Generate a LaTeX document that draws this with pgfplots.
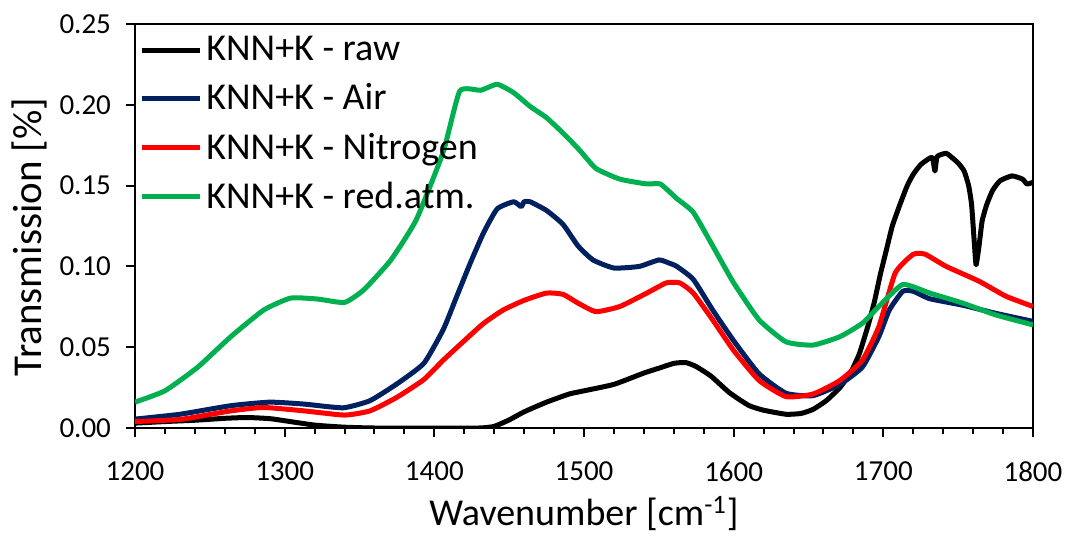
\documentclass[border=0pt]{standalone}
\usepackage{pgfplots}
\pgfplotsset{compat=1.18}
\usepackage{fontspec}
\setmainfont{Carlito}
\definecolor{cblack}{RGB}{0,0,0}
\definecolor{cnavy}{RGB}{0,32,96}
\definecolor{cred}{RGB}{255,0,0}
\definecolor{cgreen}{RGB}{0,176,80}
\begin{document}
\begin{tikzpicture}
\path[use as bounding box] (-67.5pt,-54pt) rectangle (466pt,214pt);
\begin{axis}[
  at={(0,0)}, anchor=south west,
  scale only axis, width=449pt, height=202pt,
  xmin=1200, xmax=1800, ymin=0, ymax=0.25,
  xtick={1200,1300,...,1800},
  ytick={0,0.05,0.10,0.15,0.20,0.25},
  minor x tick num=4,
  tick align=outside,
  xtick pos=bottom, ytick pos=left,
  major tick length=4.5pt, minor tick length=3pt,
  axis line style={line width=1pt},
  every tick/.style={line width=1pt, black},
  /pgf/number format/assume math mode=true,
  x tick label style={/pgf/number format/1000 sep={}, font=\fontsize{14.5}{17}\selectfont, yshift=-9pt},
  y tick label style={/pgf/number format/.cd, fixed, fixed zerofill, precision=2, /tikz/.cd, font=\fontsize{14.5}{17}\selectfont, xshift=-4pt},
  scaled y ticks=false,
  xlabel={Wavenumber [cm\textsuperscript{-1}]},
  ylabel={Transmission [\%]},
  xlabel style={font=\fontsize{19}{23}\selectfont, at={(axis description cs:0.5,-0.212)}, anchor=center},
  ylabel style={font=\fontsize{20.5}{24}\selectfont, at={(axis description cs:-0.118,0.473)}, anchor=center},
  legend style={at={(axis description cs:0,1)}, anchor=north west, draw=none, fill=none,
    font=\fontsize{19}{23}\selectfont, row sep=6pt, inner xsep=2pt, inner ysep=4pt},
  legend cell align=left,
  legend image code/.code={\draw[#1, line width=2.5pt] (0pt,0pt) -- (29pt,0pt);},
  every axis plot/.append style={line width=2.5pt, line join=round, smooth, tension=0.3},
]
\addplot[cblack] coordinates {
(1200,0.003)(1220,0.004)(1240,0.0048)(1260,0.006)(1275,0.0065)(1290,0.0058)(1300,0.0045)
(1320,0.0018)(1340,0.0005)(1360,0.0)(1400,0.0)(1430,0.0)(1440,0.001)(1450,0.005)(1460,0.010)
(1475,0.016)(1490,0.021)(1500,0.023)(1520,0.027)(1540,0.034)(1550,0.037)(1560,0.040)(1568,0.0405)
(1575,0.038)(1585,0.032)(1597,0.022)(1610,0.014)(1620,0.011)(1635,0.0085)(1645,0.009)(1653,0.0115)
(1662,0.017)(1671,0.025)(1678,0.034)(1684,0.046)(1690,0.064)(1694,0.078)(1698,0.095)(1702,0.110)
(1706,0.125)(1711,0.138)(1716,0.150)(1720,0.157)(1725,0.163)(1731,0.167)(1733,0.167)(1734.5,0.159)
(1736,0.168)(1742,0.170)(1745,0.168)(1750,0.164)(1754,0.159)(1757,0.150)(1759,0.138)(1761,0.112)
(1762,0.101)(1764,0.113)(1766,0.128)(1769,0.138)(1773,0.147)(1778,0.153)(1786,0.156)(1793,0.154)
(1796,0.151)(1800,0.152)
};
\addlegendentry{KNN+K - raw}
\addplot[cnavy] coordinates {
(1200,0.0055)(1230,0.0085)(1264,0.0138)(1290,0.016)(1313,0.0148)(1339,0.0125)(1357,0.0169)
(1375,0.0273)(1393,0.040)(1406,0.061)(1415,0.0815)(1424,0.102)(1433,0.121)(1442,0.1356)
(1453,0.140)(1458,0.137)(1460,0.140)(1464,0.140)(1475,0.1346)(1486,0.126)(1496,0.1127)(1506,0.104)(1520,0.099)
(1537,0.100)(1550,0.104)(1557,0.102)(1562,0.100)(1573,0.092)(1586,0.073)(1600,0.054)
(1617,0.0335)(1635,0.0215)(1653,0.020)(1671,0.027)(1686,0.0377)(1697,0.0565)(1704,0.073)
(1713,0.0846)(1720,0.0846)(1731,0.080)(1753,0.076)(1775,0.071)(1800,0.066)
};
\addlegendentry{KNN+K - Air}
\addplot[cred] coordinates {
(1200,0.004)(1231,0.0054)(1264,0.0106)(1286,0.0127)(1313,0.0106)(1340,0.008)(1357,0.0106)
(1375,0.019)(1393,0.030)(1406,0.042)(1420,0.054)(1433,0.0648)(1446,0.073)(1460,0.079)
(1475,0.0835)(1486,0.0827)(1496,0.0773)(1508,0.072)(1524,0.0752)(1542,0.0835)(1555,0.0898)
(1564,0.0898)(1573,0.0835)(1586,0.0669)(1600,0.048)(1617,0.0294)(1635,0.0194)(1653,0.021)
(1671,0.0294)(1686,0.042)(1697,0.0627)(1708,0.096)(1720,0.1075)(1728,0.1075)(1742,0.100)
(1764,0.0908)(1782,0.0815)(1800,0.0752)
};
\addlegendentry{KNN+K - Nitrogen}
\addplot[cgreen] coordinates {
(1200,0.016)(1220,0.023)(1242,0.0377)(1264,0.0565)(1286,0.073)(1304,0.0804)(1322,0.0798)
(1340,0.0777)(1353,0.0856)(1371,0.104)(1388,0.129)(1406,0.171)(1417,0.2085)(1431,0.209)
(1442,0.2127)(1453,0.2075)(1464,0.199)(1475,0.192)(1486,0.1825)(1497,0.172)(1508,0.1606)
(1524,0.154)(1542,0.151)(1551,0.151)(1562,0.142)(1573,0.1335)(1586,0.1127)(1600,0.0898)
(1617,0.0669)(1635,0.0533)(1653,0.0513)(1671,0.0565)(1686,0.0648)(1697,0.0752)(1713,0.0888)
(1731,0.0835)(1753,0.0773)(1775,0.070)(1800,0.0638)
};
\addlegendentry{KNN+K - red.atm.}
\end{axis}
\end{tikzpicture}
\end{document}
